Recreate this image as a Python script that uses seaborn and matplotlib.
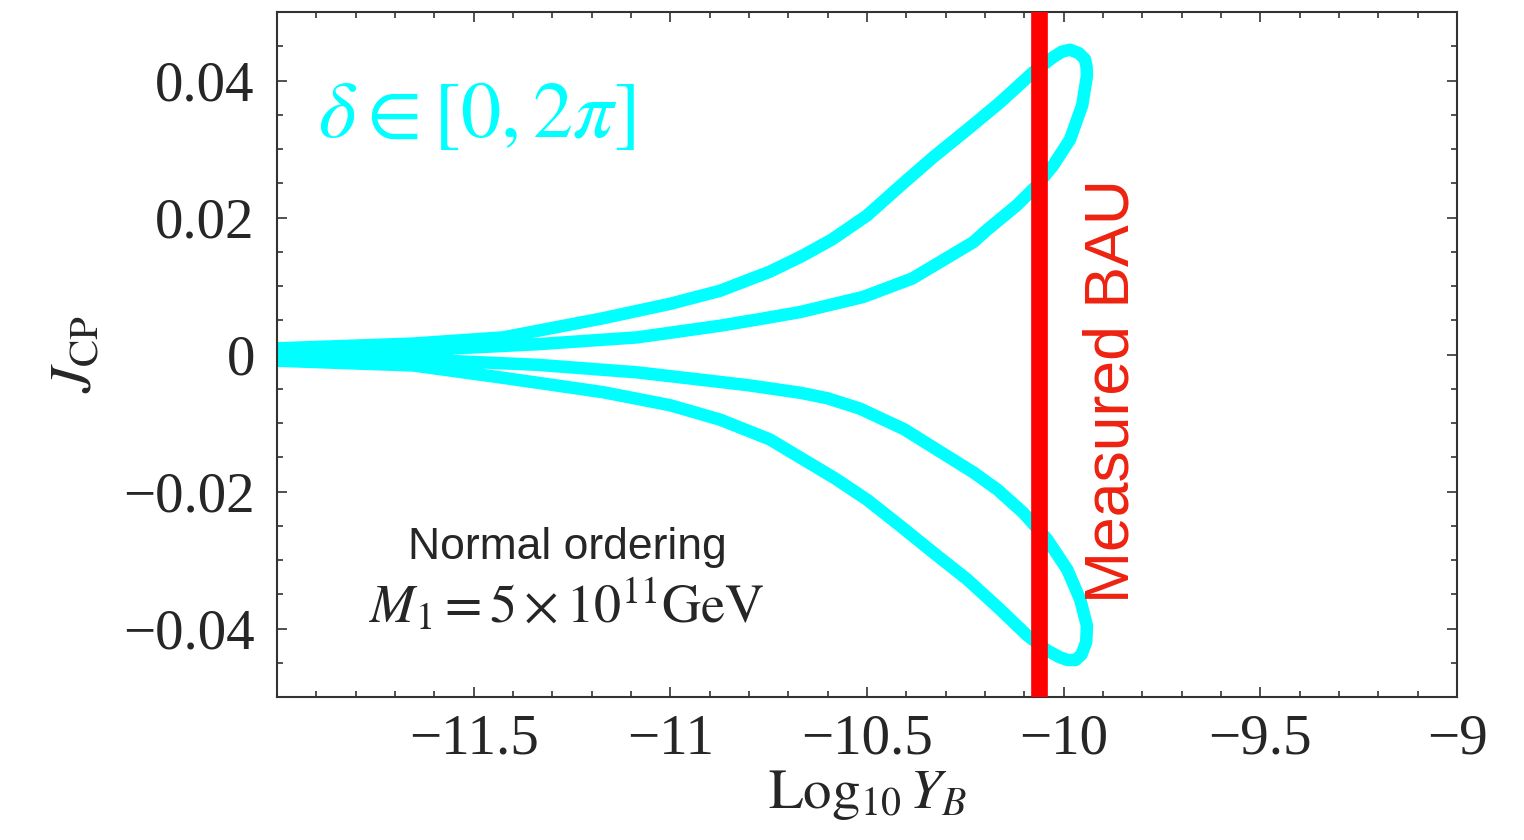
import numpy as np
import pandas as pd
import matplotlib
matplotlib.use("Agg")
import matplotlib.pyplot as plt
from matplotlib.ticker import MultipleLocator
import seaborn as sns

# =====================
# DATA
# =====================
# closed curve traced by delta in [0, 2pi]: upper outer -> upper tip -> upper inner
# -> lower inner -> lower tip -> lower outer
log_yb = [
    # upper lobe
    -12.094, -12.000, -11.654, -11.425, -11.171, -11.001, -10.874, -10.747,
    -10.668, -10.589, -10.500, -10.416, -10.332, -10.246, -10.162, -10.078,
    -10.027, -10.005, -9.984, -9.962, -9.946, -9.942, -9.941, -9.953,
    -9.984, -10.027, -10.068, -10.119, -10.195, -10.230, -10.385, -10.510,
    -10.670, -10.780, -10.874, -11.085, -11.339, -11.654, -12.000, -12.094,
    # lower lobe
    -12.094, -12.000, -11.654, -11.339, -11.085, -10.874, -10.800, -10.668,
    -10.600, -10.518, -10.406, -10.230, -10.169, -10.103, -10.042, -9.991,
    -9.958, -9.941, -9.943, -9.955, -9.970, -9.990, -10.010, -10.042,
    -10.093, -10.162, -10.246, -10.332, -10.416, -10.500, -10.581, -10.747,
    -10.874, -11.001, -11.171, -11.425, -11.654, -12.000, -12.094,
]
j_cp = [
    # upper lobe
    0.0007, 0.0009, 0.0016, 0.0025, 0.0053, 0.0074, 0.0093, 0.0121,
    0.0143, 0.0168, 0.0203, 0.0246, 0.0288, 0.0328, 0.0368, 0.0412,
    0.0434, 0.0442, 0.0445, 0.0440, 0.0431, 0.0420, 0.0407, 0.0364,
    0.0314, 0.0276, 0.0247, 0.0218, 0.0182, 0.0164, 0.0111, 0.0084,
    0.0062, 0.0051, 0.0042, 0.0025, 0.0015, 0.0006, 0.0003, 0.0001,
    # lower lobe
    -0.0001, -0.0003, -0.0007, -0.0015, -0.0026, -0.0040, -0.0045, -0.0056,
    -0.0064, -0.0079, -0.0109, -0.0172, -0.0197, -0.0231, -0.0270, -0.0314,
    -0.0358, -0.0396, -0.0420, -0.0438, -0.0446, -0.0446, -0.0442, -0.0432,
    -0.0410, -0.0372, -0.0328, -0.0289, -0.0250, -0.0212, -0.0181, -0.0124,
    -0.0095, -0.0074, -0.0055, -0.0034, -0.0016, -0.0009, -0.0007,
]
bau_log = -10.062

x_ticks = [-11.5, -11.0, -10.5, -10.0, -9.5, -9.0]
x_labels = ["\u221211.5", "\u221211", "\u221210.5", "\u221210", "\u22129.5", "\u22129"]
y_ticks = [0.04, 0.02, 0.0, -0.02, -0.04]
y_labels = ["0.04", "0.02", "0", "\u22120.02", "\u22120.04"]

df = pd.DataFrame({"logYB": log_yb, "Jcp": j_cp})

# =====================
# STYLE
# =====================
sns.set_style("ticks")
plt.rcParams["font.family"] = ["Liberation Serif", "DejaVu Serif"]
plt.rcParams["mathtext.fontset"] = "stix"

CYAN = "#00FFFF"
RED = "#FF0000"

fig = plt.figure(figsize=(15.24, 8.4), dpi=100)
ax = fig.add_axes([0.1818, 0.1702, 0.7743, 0.8155])

sns.lineplot(data=df, x="logYB", y="Jcp", sort=False, estimator=None,
             color=CYAN, linewidth=9, ax=ax, zorder=2)
for ln in ax.lines:
    ln.set_solid_joinstyle("round")
    ln.set_solid_capstyle("round")
ax.axvline(bau_log, color=RED, linewidth=12, zorder=3)

ax.set_xlim(-12, -9)
ax.set_ylim(-0.05, 0.05)
ax.set_xticks(x_ticks)
ax.set_xticklabels(x_labels)
ax.set_yticks(y_ticks)
ax.set_yticklabels(y_labels)
ax.xaxis.set_minor_locator(MultipleLocator(0.1))
ax.yaxis.set_minor_locator(MultipleLocator(0.005))
ax.tick_params(which="both", direction="in", top=True, right=True,
               color="#333333", width=1.2)
ax.tick_params(which="major", length=7, labelsize=41)
ax.tick_params(axis="x", which="major", pad=12)
ax.tick_params(axis="y", which="major", pad=16)
ax.tick_params(which="minor", length=4)
for sp in ax.spines.values():
    sp.set_color("#333333")
    sp.set_linewidth(1.5)

ax.set_xlabel(r"$\mathrm{Log}_{10}\,Y_B$", fontsize=41, labelpad=2)
ax.set_ylabel(r"$J_{\mathrm{CP}}$", fontsize=42, labelpad=14)

# annotations
ax.text(-11.896, 0.0317, r"$\delta \in [0, 2\pi]$", color=CYAN, fontsize=58,
        ha="left", va="baseline")
ax.text(-11.263, -0.0299, "Normal ordering", family=["Liberation Sans", "DejaVu Sans"],
        fontsize=32, ha="center", va="baseline")
ax.text(-11.263, -0.0391, r"$M_1 = 5\times10^{11}\mathrm{GeV}$", fontsize=39,
        ha="center", va="baseline")
ax.text(-9.877, -0.0053, "Measured BAU", family=["Liberation Sans", "DejaVu Sans"],
        color="#EE2211", fontsize=45, rotation=90, ha="center", va="center")

fig.savefig("out.png", dpi=100)
